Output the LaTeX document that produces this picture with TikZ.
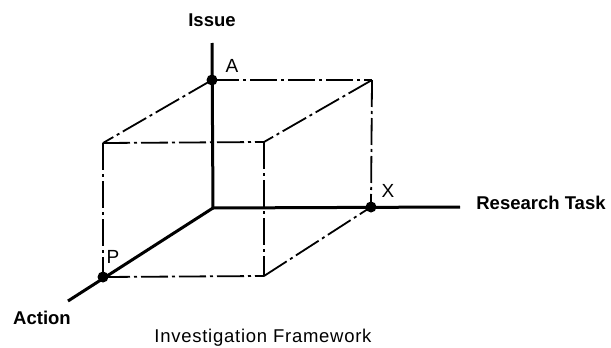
\documentclass[tikz,border=0pt]{standalone}
\usepackage{fontspec}
\setmainfont{Liberation Sans}
\newfontfamily\spaced[LetterSpace=4]{Liberation Sans}
\begin{document}
\begin{tikzpicture}[x=1pt,y=-1pt,
  axis/.style={line width=3pt},
  edge/.style={line width=1.8pt, dash pattern=on 27pt off 4pt on 3pt off 4pt},
  dot/.style={circle, fill=black, inner sep=0pt, minimum size=11pt},
  lbl/.style={font=\fontsize{18.5}{18.5}\selectfont\bfseries, inner sep=0pt},
  ptl/.style={font=\fontsize{19}{19}\selectfont, inner sep=0pt}]
\useasboundingbox (0,0) rectangle (611,348);
% coordinates
\coordinate (O) at (213,208);
\coordinate (Itop) at (212,43);
\coordinate (Rend) at (460,207);
\coordinate (Aend) at (68,301);
\coordinate (A) at (212,80);
\coordinate (B) at (372,80);
\coordinate (X) at (371,207);
\coordinate (C) at (103,143);
\coordinate (D) at (264,142);
\coordinate (E) at (264,276);
\coordinate (P) at (103,277);
% box edges
\draw[edge] (A) -- (B);
\draw[edge] (B) -- (X);
\draw[edge] (A) -- (C);
\draw[edge] (B) -- (D);
\draw[edge] (C) -- (D);
\draw[edge] (C) -- (P);
\draw[edge] (D) -- (E);
\draw[edge] (P) -- (E);
\draw[edge] (E) -- (X);
% axes
\draw[axis] (O) -- (Itop);
\draw[axis] (O) -- (Rend);
\draw[axis] (O) -- (Aend);
% points
\node[dot] (nA) at (A) {};
\node[dot] (nX) at (X) {};
\node[dot] (nP) at (P) {};
% labels
\node[lbl] (tI) at (212,20) {Issue};
\node[lbl] (tR) at (541,203) {Research Task};
\node[lbl] (tA) at (42,318) {Action};
\node[lbl, font=\fontsize{18.5}{18.5}\selectfont\spaced] (tF) at (263,338) {Investigation Framework};
\node[ptl] (lA) at (232,66) {A};
\node[ptl] (lX) at (388,191) {X};
\node[ptl] (lP) at (113,257) {P};
\end{tikzpicture}
\end{document}
